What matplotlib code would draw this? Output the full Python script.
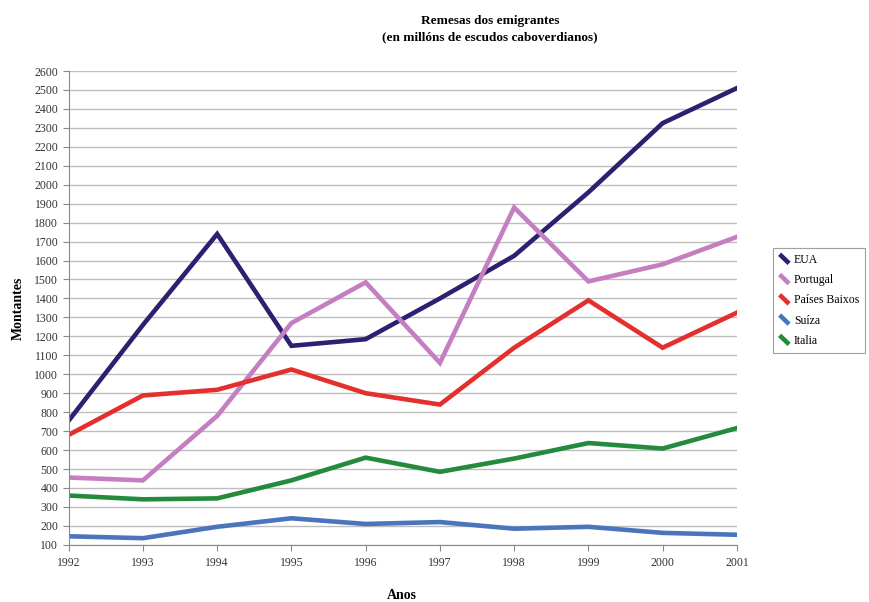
import matplotlib.pyplot as plt
from matplotlib.legend_handler import HandlerLine2D
from matplotlib.lines import Line2D

plt.rcParams['font.family'] = ['Liberation Serif', 'DejaVu Serif']

years = [1992, 1993, 1994, 1995, 1996, 1997, 1998, 1999, 2000, 2001]
eua = [755, 1260, 1740, 1150, 1185, 1400, 1625, 1960, 2325, 2510]
portugal = [455, 440, 780, 1270, 1485, 1060, 1880, 1490, 1580, 1725]
paises_baixos = [680, 888, 918, 1025, 900, 840, 1140, 1390, 1140, 1325]
suiza = [145, 135, 195, 240, 210, 220, 185, 195, 163, 153]
italia = [360, 340, 345, 440, 560, 485, 555, 637, 608, 716]

series = [
    ("EUA", eua, "#2b2170"),
    ("Portugal", portugal, "#c47fc0"),
    ("Países Baixos", paises_baixos, "#e3302f"),
    ("Suíza", suiza, "#4a74bb"),
    ("Italia", italia, "#248a3c"),
]


class DiagHandler(HandlerLine2D):
    # legend keys are short diagonal strokes
    def create_artists(self, legend, orig_handle, xdescent, ydescent,
                       width, height, fontsize, trans):
        x0, x1 = -xdescent + width * 0.1, -xdescent + width * 0.9
        y0, y1 = -ydescent + height * 1.05, -ydescent - height * 0.05
        line = Line2D([x0, x1], [y0, y1], color=orig_handle.get_color(),
                      lw=orig_handle.get_linewidth(), solid_capstyle='butt')
        line.set_transform(trans)
        return [line]


fig = plt.figure(figsize=(8.69, 6.02), dpi=100)
ax = fig.add_axes([0.079, 0.095, 0.769, 0.787])

handles = []
for name, vals, col in series:
    h, = ax.plot(years, vals, color=col, lw=3.3, label=name,
                 solid_joinstyle='miter')
    handles.append(h)

ax.set_xlim(1992, 2001)
ax.set_ylim(100, 2600)
ax.set_xticks(years)
ax.set_yticks(range(100, 2601, 100))
ax.yaxis.grid(True, color='#bdbdbd', lw=1)
ax.set_axisbelow(True)
for s in ['top', 'right']:
    ax.spines[s].set_visible(False)
for s in ['left', 'bottom']:
    ax.spines[s].set_color('#8a8a8a')
ax.tick_params(axis='both', colors='#8a8a8a', labelcolor='#333333',
               labelsize=8.5, length=4)
ax.tick_params(axis='x', pad=5)

ax.set_ylabel("Montantes", fontsize=10, fontweight='bold', labelpad=7)
fig.text(0.463, 0.011, "Anos", ha='center', va='center',
         fontsize=10, fontweight='bold')

fig.text(0.564, 0.965, "Remesas dos emigrantes", ha='center', va='center',
         fontsize=9.5, fontweight='bold')
fig.text(0.564, 0.938, "(en millóns de escudos caboverdianos)", ha='center',
         va='center', fontsize=9.5, fontweight='bold')

leg = fig.legend(handles=handles, loc='upper left',
                 bbox_to_anchor=(0.889, 0.588), fontsize=8.5,
                 handler_map={Line2D: DiagHandler()}, handlelength=1.0,
                 handletextpad=0.3, borderpad=0.5, borderaxespad=0.0,
                 labelspacing=0.7,
                 frameon=True, fancybox=False, edgecolor='#888888')
leg.get_frame().set_linewidth(0.8)

fig.savefig("out.png", dpi=100)
